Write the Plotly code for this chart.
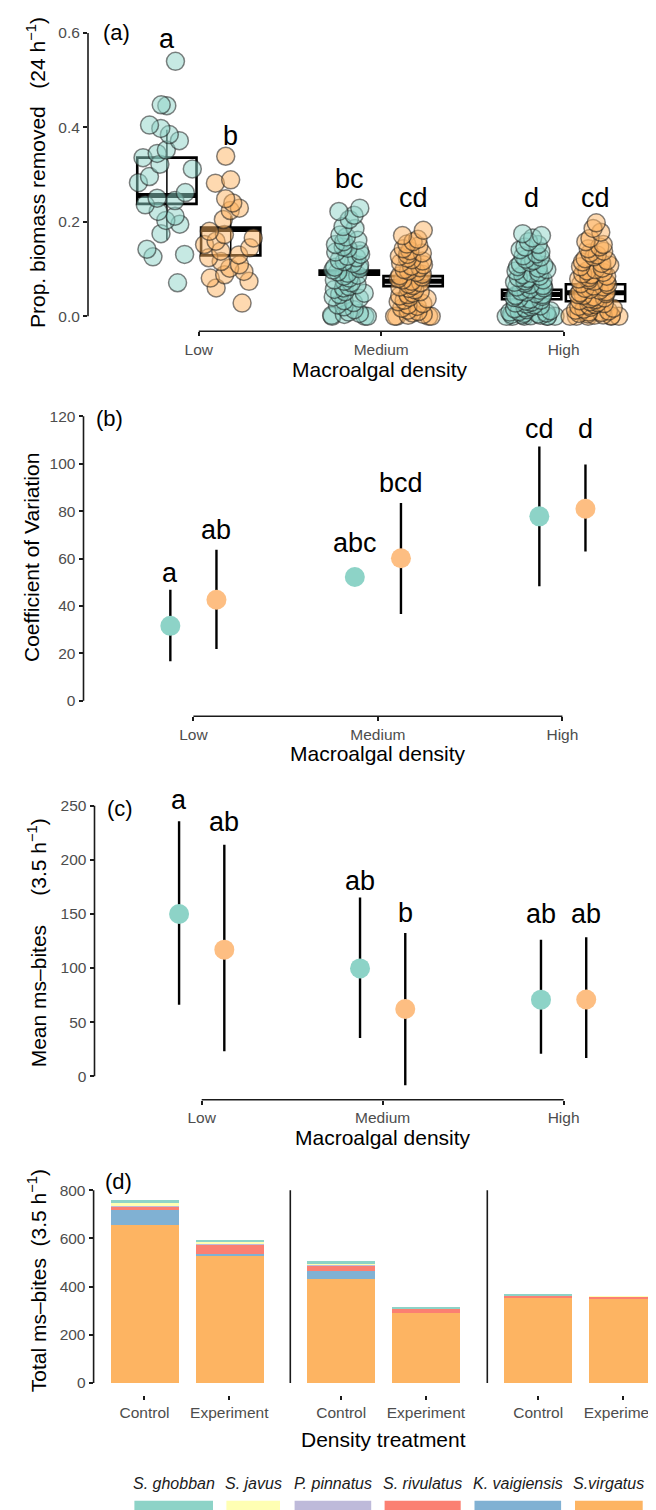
import plotly.graph_objects as go

W, H = 656, 1510
FONT = "Liberation Sans, Arial, Helvetica, sans-serif"
TEAL_A = "rgba(141,211,199,0.5)"
ORANGE_A = "rgba(253,180,98,0.5)"
TEAL_PT = "#8DD3C7"
ORANGE_PT = "#FDBE82"
AX = "#1a1a1a"
TICKC = "#4D4D4D"

# ------------------------------------------------------------------ data
density_levels = ["Low", "Medium", "High"]
density_pos = [1, 2, 3]

# (a) proportion of biomass removed per replicate
a_low_ctrl = [0.54, 0.448, 0.446, 0.405, 0.398, 0.385, 0.372, 0.352, 0.345, 0.336,
              0.322, 0.312, 0.296, 0.283, 0.262, 0.25, 0.245, 0.236, 0.222, 0.212,
              0.203, 0.195, 0.175, 0.142, 0.131, 0.126, 0.071]
a_low_exp = [0.339, 0.289, 0.282, 0.249, 0.24, 0.229, 0.224, 0.205, 0.18, 0.173,
             0.166, 0.159, 0.152, 0.145, 0.138, 0.13, 0.124, 0.116, 0.109, 0.102,
             0.095, 0.088, 0.081, 0.074, 0.06, 0.028]
a_med_ctrl = [0.229, 0.222, 0.214, 0.205, 0.19, 0.186, 0.172, 0.168, 0.161, 0.158,
              0.152, 0.147, 0.144, 0.139, 0.136, 0.131, 0.127, 0.124, 0.119, 0.116,
              0.112, 0.108, 0.104, 0.101, 0.098, 0.094, 0.091, 0.087, 0.085, 0.081,
              0.077, 0.074, 0.071, 0.067, 0.063, 0.06, 0.057, 0.052, 0.049, 0.046,
              0.041, 0.038, 0.033, 0.029, 0.024, 0.02, 0.014, 0.009, 0.006, 0.004,
              0.002, 0.0, 0.0, 0.0]
a_med_exp = [0.182, 0.171, 0.163, 0.158, 0.153, 0.149, 0.143, 0.139, 0.134, 0.131,
             0.127, 0.123, 0.12, 0.117, 0.113, 0.109, 0.106, 0.103, 0.099, 0.096,
             0.093, 0.089, 0.086, 0.083, 0.08, 0.077, 0.074, 0.071, 0.068, 0.065,
             0.062, 0.059, 0.056, 0.052, 0.049, 0.046, 0.043, 0.04, 0.037, 0.034,
             0.031, 0.027, 0.024, 0.021, 0.017, 0.013, 0.01, 0.007, 0.004, 0.002,
             0.0, 0.0, 0.0, 0.0]
a_high_ctrl = [0.175, 0.171, 0.166, 0.158, 0.152, 0.147, 0.141, 0.137, 0.132, 0.128,
               0.125, 0.121, 0.118, 0.114, 0.111, 0.108, 0.105, 0.102, 0.099, 0.096,
               0.093, 0.091, 0.088, 0.085, 0.082, 0.08, 0.077, 0.075, 0.072, 0.07,
               0.067, 0.065, 0.062, 0.06, 0.058, 0.055, 0.053, 0.051, 0.048, 0.046,
               0.044, 0.042, 0.04, 0.038, 0.036, 0.034, 0.032, 0.03, 0.028, 0.026,
               0.024, 0.022, 0.02, 0.018, 0.016, 0.014, 0.012, 0.01, 0.009, 0.007,
               0.006, 0.005, 0.004, 0.003, 0.002, 0.001, 0.0, 0.0, 0.0, 0.0, 0.0, 0.0]
a_high_exp = [0.198, 0.186, 0.178, 0.165, 0.158, 0.152, 0.147, 0.143, 0.138, 0.134,
              0.13, 0.126, 0.122, 0.118, 0.115, 0.112, 0.108, 0.105, 0.102, 0.099,
              0.096, 0.093, 0.09, 0.088, 0.085, 0.082, 0.079, 0.077, 0.074, 0.072,
              0.069, 0.067, 0.064, 0.062, 0.059, 0.057, 0.055, 0.052, 0.05, 0.048,
              0.046, 0.044, 0.041, 0.039, 0.037, 0.035, 0.033, 0.031, 0.029, 0.027,
              0.025, 0.023, 0.021, 0.019, 0.017, 0.015, 0.013, 0.011, 0.009, 0.008,
              0.006, 0.005, 0.003, 0.002, 0.001, 0.0, 0.0, 0.0, 0.0, 0.0]

# (a) crossbar summaries  [Low, Medium, High]
a_box_lo_ctrl = [0.238, 0.088, 0.036]
a_box_mid_ctrl = [0.256, 0.093, 0.046]
a_box_hi_ctrl = [0.336, 0.097, 0.056]
a_rng_lo_ctrl = [0.162, 0.088, 0.036]
a_rng_hi_ctrl = [0.395, 0.097, 0.056]
a_box_lo_exp = [0.129, 0.064, 0.032]
a_box_mid_exp = [0.184, 0.074, 0.050]
a_box_hi_exp = [0.188, 0.085, 0.068]
a_rng_lo_exp = [0.129, 0.064, 0.032]
a_rng_hi_exp = [0.212, 0.085, 0.068]
a_letters_ctrl = ["a", "bc", "d"]
a_letters_exp = ["b", "cd", "cd"]
a_letter_y_ctrl = [0.565, 0.270, 0.229]
a_letter_y_exp = [0.360, 0.229, 0.229]
a_yticks = [0.0, 0.2, 0.4, 0.6]

# (b) coefficient of variation
cv_ctrl = [31.6, 52.2, 77.8]
cv_ctrl_lo = [16.6, 52.2, 48.3]
cv_ctrl_hi = [46.8, 52.2, 107.3]
cv_exp = [42.6, 60.1, 81.0]
cv_exp_lo = [21.8, 36.6, 63.0]
cv_exp_hi = [63.7, 83.4, 99.7]
cv_letters_ctrl = ["a", "abc", "cd"]
cv_letters_exp = ["ab", "bcd", "d"]
cv_letter_y_ctrl = [49.7, 62.0, 110.1]
cv_letter_y_exp = [67.9, 87.6, 110.1]
cv_yticks = [0, 20, 40, 60, 80, 100, 120]

# (c) mean ms-bites
mb_ctrl = [149.9, 99.7, 70.8]
mb_ctrl_lo = [66.2, 35.4, 20.9]
mb_ctrl_hi = [235.6, 165.3, 126.2]
mb_exp = [117.0, 62.2, 71.0]
mb_exp_lo = [23.1, -8.3, 16.9]
mb_exp_hi = [214.0, 132.4, 128.4]
mb_letters_ctrl = ["a", "ab", "ab"]
mb_letters_exp = ["ab", "b", "ab"]
mb_letter_y_ctrl = [245.4, 170.9, 140.7]
mb_letter_y_exp = [225.4, 141.0, 140.7]
mb_yticks = [0, 50, 100, 150, 200, 250]

# (d) total ms-bites by species; bars: Low C/E, Medium C/E, High C/E
treatments = ["Control", "Experiment"]
species = ["S.virgatus", "K. vaigiensis", "S. rivulatus", "P. pinnatus", "S. javus", "S. ghobban"]
species_colors = ["#FDB462", "#80B1D3", "#FB8072", "#BEBADA", "#FFFFB3", "#8DD3C7"]
tb_virgatus = [654, 530, 430, 292, 352, 352]
tb_vaigiensis = [64, 6, 34, 0, 0, 0]
tb_rivulatus = [15, 40, 25, 16, 11, 6]
tb_pinnatus = [3, 2, 1, 0, 0, 0]
tb_javus = [12, 6, 6, 2, 0, 2]
tb_ghobban = [12, 11, 9, 2, 3, 0]
tb_yticks = [0, 200, 400, 600, 800]
legend_order = ["S. ghobban", "S. javus", "P. pinnatus", "S. rivulatus", "K. vaigiensis", "S.virgatus"]

# ------------------------------------------------------------------ helpers
def lin(p1, v1, p2, v2):
    k = (v2 - v1) / (p2 - p1)
    return lambda p: v1 + (p - p1) * k

def xdom(p0, p1):
    return [max(0.0, p0 / W), min(1.0, p1 / W)]

def ydom(top, bottom):
    return [1 - bottom / H, 1 - top / H]

fig = go.Figure()
shapes = []
annotations = []

def axis_line(xref, x0, x1, yref, y0, y1):
    shapes.append(dict(type="line", xref=xref, yref=yref, x0=x0, x1=x1, y0=y0, y1=y1,
                       line=dict(color=AX, width=1.6), layer="above"))

def text(x, y, s, size, xref="paper", yref="paper", xanchor="center", yanchor="middle",
         angle=0, color="black", yshift=0):
    annotations.append(dict(x=x, y=y, xref=xref, yref=yref, text=s, showarrow=False,
                            xanchor=xanchor, yanchor=yanchor, textangle=angle, yshift=yshift,
                            font=dict(family=FONT, size=size, color=color)))

xaxis_style = dict(showline=False, showgrid=False, zeroline=False, ticks="outside", ticklen=4,
                   tickwidth=1.5, tickcolor=AX, tickfont=dict(family=FONT, size=15.5, color=TICKC),
                   type="linear")
yaxis_style = dict(showline=False, showgrid=False, zeroline=False, ticks="outside", ticklen=4,
                   tickwidth=1.5, tickcolor=AX, tickfont=dict(family=FONT, size=15.5, color=TICKC))

LET_SIZE = 27
LET_SHIFT = -(0.212 * LET_SIZE + 1)

# ------------------------------------------------------------------ panel (a)
dodge_a = 0.175
half_a = 0.1625
pos_ctrl_a = [p - dodge_a for p in density_pos]
pos_exp_a = [p + dodge_a for p in density_pos]

def crossbars(pos, lo, mid, hi, rlo, rhi):
    # drawn beneath the points (layer below), positioned with the data axes
    for c, l, m, h, r0, r1 in zip(pos, lo, mid, hi, rlo, rhi):
        shapes.append(dict(type="line", xref="x", yref="y", x0=c, x1=c, y0=r0, y1=r1,
                           line=dict(color="black", width=1.5), layer="below"))
        shapes.append(dict(type="rect", xref="x", yref="y", x0=c - half_a, x1=c + half_a,
                           y0=l, y1=h, line=dict(color="black", width=2.6),
                           fillcolor="rgba(0,0,0,0)", layer="below"))
        shapes.append(dict(type="line", xref="x", yref="y", x0=c - half_a, x1=c + half_a,
                           y0=m, y1=m, line=dict(color="black", width=5), layer="below"))

crossbars(pos_ctrl_a, a_box_lo_ctrl, a_box_mid_ctrl, a_box_hi_ctrl, a_rng_lo_ctrl, a_rng_hi_ctrl)
crossbars(pos_exp_a, a_box_lo_exp, a_box_mid_exp, a_box_hi_exp, a_rng_lo_exp, a_rng_hi_exp)

groups_a = [(a_low_ctrl, pos_ctrl_a[0], TEAL_A), (a_low_exp, pos_exp_a[0], ORANGE_A),
            (a_med_ctrl, pos_ctrl_a[1], TEAL_A), (a_med_exp, pos_exp_a[1], ORANGE_A),
            (a_high_ctrl, pos_ctrl_a[2], TEAL_A), (a_high_exp, pos_exp_a[2], ORANGE_A)]
for vals, pos, col in groups_a:
    fig.add_trace(go.Box(y=vals, x0=pos, width=0.33, boxpoints="all", jitter=1, pointpos=0,
                         line=dict(width=0, color="rgba(0,0,0,0)"), fillcolor="rgba(0,0,0,0)",
                         marker=dict(size=18, color=col, line=dict(width=1.5, color="rgba(30,30,30,0.55)")),
                         xaxis="x", yaxis="y", hoverinfo="skip", showlegend=False))

for p, s, yv in zip(pos_ctrl_a, a_letters_ctrl, a_letter_y_ctrl):
    text(p, yv, s, LET_SIZE, "x", "y", yanchor="bottom", yshift=LET_SHIFT)
for p, s, yv in zip(pos_exp_a, a_letters_exp, a_letter_y_exp):
    text(p, yv, s, LET_SIZE, "x", "y", yanchor="bottom", yshift=LET_SHIFT)

fxa = lin(190.8, 1, 555.6, 3)
fya = lin(308.3, 0, 25, 0.6)
fig.update_layout(
    xaxis=dict(domain=xdom(80, W), range=[fxa(80), fxa(W)], anchor="y",
               tickvals=density_pos, ticktext=density_levels, **xaxis_style),
    yaxis=dict(domain=ydom(15, 323.3), range=[fya(323.3), fya(15)], anchor="x",
               tickvals=a_yticks, tickformat=".1f", **yaxis_style),
)
axis_line("x domain", 0, 0, "y", a_yticks[0], a_yticks[-1])
axis_line("x", density_pos[0], density_pos[-1], "y domain", 0, 0)

# ------------------------------------------------------------------ panel (b) & (c)
dodge_bc = 0.125

def point_panel(mean_c, lo_c, hi_c, mean_e, lo_e, hi_e, xa, ya):
    for means, lo, hi, sign, col in [(mean_c, lo_c, hi_c, -1, TEAL_PT), (mean_e, lo_e, hi_e, 1, ORANGE_PT)]:
        xs = [p + sign * dodge_bc for p in density_pos]
        fig.add_trace(go.Scatter(
            x=xs, y=means, mode="markers",
            marker=dict(size=20, color=col, line=dict(width=0)),
            error_y=dict(type="data", symmetric=False,
                         array=[h - m for h, m in zip(hi, means)],
                         arrayminus=[m - l for m, l in zip(means, lo)],
                         width=0, thickness=2.4, color="black"),
            xaxis=xa, yaxis=ya, hoverinfo="skip", showlegend=False))

point_panel(cv_ctrl, cv_ctrl_lo, cv_ctrl_hi, cv_exp, cv_exp_lo, cv_exp_hi, "x2", "y2")
for p, s, yv in zip(density_pos, cv_letters_ctrl, cv_letter_y_ctrl):
    text(p - dodge_bc, yv, s, LET_SIZE, "x2", "y2", yanchor="bottom", yshift=LET_SHIFT)
for p, s, yv in zip(density_pos, cv_letters_exp, cv_letter_y_exp):
    text(p + dodge_bc, yv, s, LET_SIZE, "x2", "y2", yanchor="bottom", yshift=LET_SHIFT)

fxb = lin(185.4, 1, 554.4, 3)
fyb = lin(692.7, 0, 408.3, 120)
fig.update_layout(
    xaxis2=dict(domain=xdom(75.5, W), range=[fxb(75.5), fxb(W)], anchor="y2",
                tickvals=density_pos, ticktext=density_levels, **xaxis_style),
    yaxis2=dict(domain=ydom(395, 708.3), range=[fyb(708.3), fyb(395)], anchor="x2",
                tickvals=cv_yticks, **yaxis_style),
)
axis_line("x2 domain", 0, 0, "y2", cv_yticks[0], cv_yticks[-1])
axis_line("x2", density_pos[0], density_pos[-1], "y2 domain", 0, 0)

point_panel(mb_ctrl, mb_ctrl_lo, mb_ctrl_hi, mb_exp, mb_exp_lo, mb_exp_hi, "x3", "y3")
for p, s, yv in zip(density_pos, mb_letters_ctrl, mb_letter_y_ctrl):
    text(p - dodge_bc, yv, s, LET_SIZE, "x3", "y3", yanchor="bottom", yshift=LET_SHIFT)
for p, s, yv in zip(density_pos, mb_letters_exp, mb_letter_y_exp):
    text(p + dodge_bc, yv, s, LET_SIZE, "x3", "y3", yanchor="bottom", yshift=LET_SHIFT)

fxc = lin(193.7, 1, 555.6, 3)
fyc = lin(1068.3, 0, 797.7, 250)
fig.update_layout(
    xaxis3=dict(domain=xdom(86.5, W), range=[fxc(86.5), fxc(W)], anchor="y3",
                tickvals=density_pos, ticktext=density_levels, **xaxis_style),
    yaxis3=dict(domain=ydom(780, 1091.7), range=[fyc(1091.7), fyc(780)], anchor="x3",
                tickvals=mb_yticks, **yaxis_style),
)
axis_line("x3 domain", 0, 0, "y3", mb_yticks[0], mb_yticks[-1])
axis_line("x3", density_pos[0], density_pos[-1], "y3 domain", 0, 0)

# ------------------------------------------------------------------ panel (d)
stack = [tb_virgatus, tb_vaigiensis, tb_rivulatus, tb_pinnatus, tb_javus, tb_ghobban]
facet_axes = ["x4", "x5", "x6"]
for k, xa in enumerate(facet_axes):
    for name, col, vals in zip(species, species_colors, stack):
        fig.add_trace(go.Bar(x=treatments, y=vals[2 * k:2 * k + 2], name=name, width=0.8,
                             marker=dict(color=col, line=dict(width=0)),
                             xaxis=xa, yaxis="y4", hoverinfo="skip", showlegend=False))

fyd = lin(1375, 0, 1182.3, 800)
unit_d = 84.8  # px per category
facet_px = [(85.6, 272.2), (282.3, 469.0), (479.3, W)]
d_xstyle = dict(xaxis_style)
d_xstyle["type"] = "category"
for k, (p0, p1) in enumerate(facet_px):
    key = ["xaxis4", "xaxis5", "xaxis6"][k]
    fig.update_layout(**{key: dict(domain=xdom(p0, p1), range=[-0.6, -0.6 + (p1 - p0) / unit_d],
                                   anchor="y4", **d_xstyle)})
fig.update_layout(
    yaxis4=dict(domain=ydom(1168, 1386.5), range=[fyd(1386.5), fyd(1168)], anchor="x4",
                tickvals=tb_yticks, **yaxis_style),
    barmode="stack", bargap=0,
)
for xa in facet_axes:
    axis_line(xa + " domain", 0, 0, "y4", tb_yticks[0], tb_yticks[-1])

# ------------------------------------------------------------------ titles & labels
text(93 / W, 1 - 25 / H, "(a)", 22, xanchor="left")
text(86 / W, 1 - 410 / H, "(b)", 22, xanchor="left")
text(97 / W, 1 - 800 / H, "(c)", 22, xanchor="left")
text(95.4 / W, 1 - 1173.3 / H, "(d)", 22, xanchor="left")

NB = "\u00a0"
text(28 / W, 1 - 165 / H, "Prop. biomass removed" + NB * 3 + "(24 h<sup>−1</sup>)", 21, angle=-90)
text(23 / W, 1 - 550 / H, "Coefficient of Variation", 21, angle=-90)
text(29.3 / W, 1 - 935 / H, "Mean ms–bites" + NB * 5 + "(3.5 h<sup>−1</sup>)", 21, angle=-90)
text(29.3 / W, 1 - 1273 / H, "Total ms–bites" + NB * 2 + "(3.5 h<sup>−1</sup>)", 21, angle=-90)

text(372.4 / W, 1 - 361 / H, "Macroalgal density", 21)
text(370 / W, 1 - 745.7 / H, "Macroalgal density", 21)
text(375 / W, 1 - 1129 / H, "Macroalgal density", 21)
text(375 / W, 1 - 1431.7 / H, "Density treatment", 21)

# legend (keys below labels)
key_px = [(126.4, 205.0), (218.4, 272.0), (286.6, 363.2), (376.6, 452.7), (466.5, 553.1), (567.0, 634.7)]
color_of = dict(zip(species, species_colors))
for name, (k0, k1) in zip(legend_order, key_px):
    text((k0 + k1) / 2 / W, 1 - 1475 / H, "<i>" + name + "</i>", 16, color="#1a1a1a")
    shapes.append(dict(type="rect", xref="paper", yref="paper", x0=k0 / W, x1=k1 / W,
                       y0=1 - 1492.7 / H, y1=-0.02, line=dict(width=0),
                       fillcolor=color_of[name], layer="above"))

fig.update_layout(
    width=W, height=H, margin=dict(l=0, r=0, t=0, b=0),
    paper_bgcolor="white", plot_bgcolor="white", showlegend=False,
    font=dict(family=FONT), shapes=shapes, annotations=annotations,
)

fig.write_html("out.html")
